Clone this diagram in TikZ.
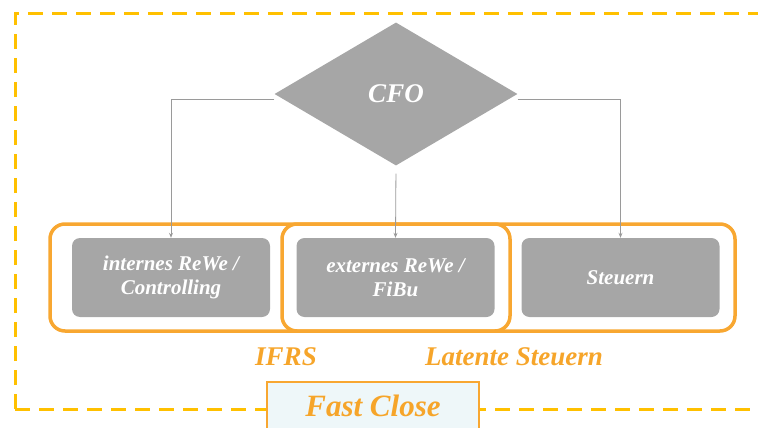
\documentclass[tikz,border=0pt]{standalone}
\usepackage{fontspec}
\setmainfont{Liberation Serif}
\usepackage{tikz}
\usetikzlibrary{shapes.geometric,arrows.meta,positioning}

\definecolor{boxgray}{HTML}{A6A6A6}
\definecolor{linegray}{HTML}{9A9A9A}
\definecolor{grouporange}{HTML}{F8A731}
\definecolor{frameyellow}{HTML}{FFC000}
\definecolor{labelorange}{HTML}{F6A52A}
\definecolor{closefill}{HTML}{EEF7F9}

\begin{document}
\begin{tikzpicture}[x=1pt, y=-1pt,
        font=\bfseries\itshape,
        every node/.append style={inner sep=0pt},
        link/.style={draw=linegray, line width=0.8pt, -{Stealth[length=5pt,width=4pt]}}]
      \tikzstyle{area} = [draw=grouporange, line width=3.5pt, rounded corners=15pt]
      \tikzstyle{unit} = [fill=boxgray, rounded corners=8pt, text=white, align=center,
                          minimum width=198pt, minimum height=79pt, font=\fontsize{21}{24}\selectfont\bfseries\itshape]
      \tikzstyle{tag} = [text=labelorange, font=\fontsize{27}{30}\selectfont\bfseries\itshape]
      \clip (0,0) rectangle (758,428);
      % outer frame
      \draw[frameyellow, line width=3pt, dash pattern=on 15pt off 9pt] (15,409) -- (15,14) -- (780,14);
      \draw[frameyellow, line width=3pt, dash pattern=on 15pt off 9pt] (15,409) -- (780,409);
      % groups
      \node (ifrs) [area, minimum width=685pt, minimum height=107pt] at (392.5,277.5) {};
      \node (latent) [area, minimum width=228pt, minimum height=107pt] at (396,277.5) {};
      % head
      \node (cfo) [diamond, fill=boxgray, aspect=1.7, minimum width=243pt, minimum height=143pt,
                   text=white, font=\fontsize{27}{30}\selectfont\bfseries\itshape] at (396,94) {CFO};
      % units
      \node (intern) [unit] at (171,277.5) {internes ReWe /\\Controlling};
      \node (extern) [unit] at (395.5,277.5) {externes ReWe /\\FiBu};
      \node (tax) [unit] at (620.5,277.5) {Steuern};
      \draw[link] ([yshift=-5pt]cfo.west) -| (intern.north);
      \draw[link, shorten <=8pt] (cfo.south) -- (extern.north);
      \draw[link] ([yshift=-5pt]cfo.east) -| (tax.north);
      % labels
      \node (ifrslabel) [tag] at (286,357) {IFRS};
      \node (latentlabel) [tag] at (514,357) {Latente Steuern};
      \node (fastclose) [draw=grouporange, line width=1.5pt, fill=closefill, minimum width=212pt, minimum height=48pt,
                         text=labelorange, font=\fontsize{31}{33}\selectfont\bfseries\itshape] at (373,406) {Fast Close};
\end{tikzpicture}
\end{document}
